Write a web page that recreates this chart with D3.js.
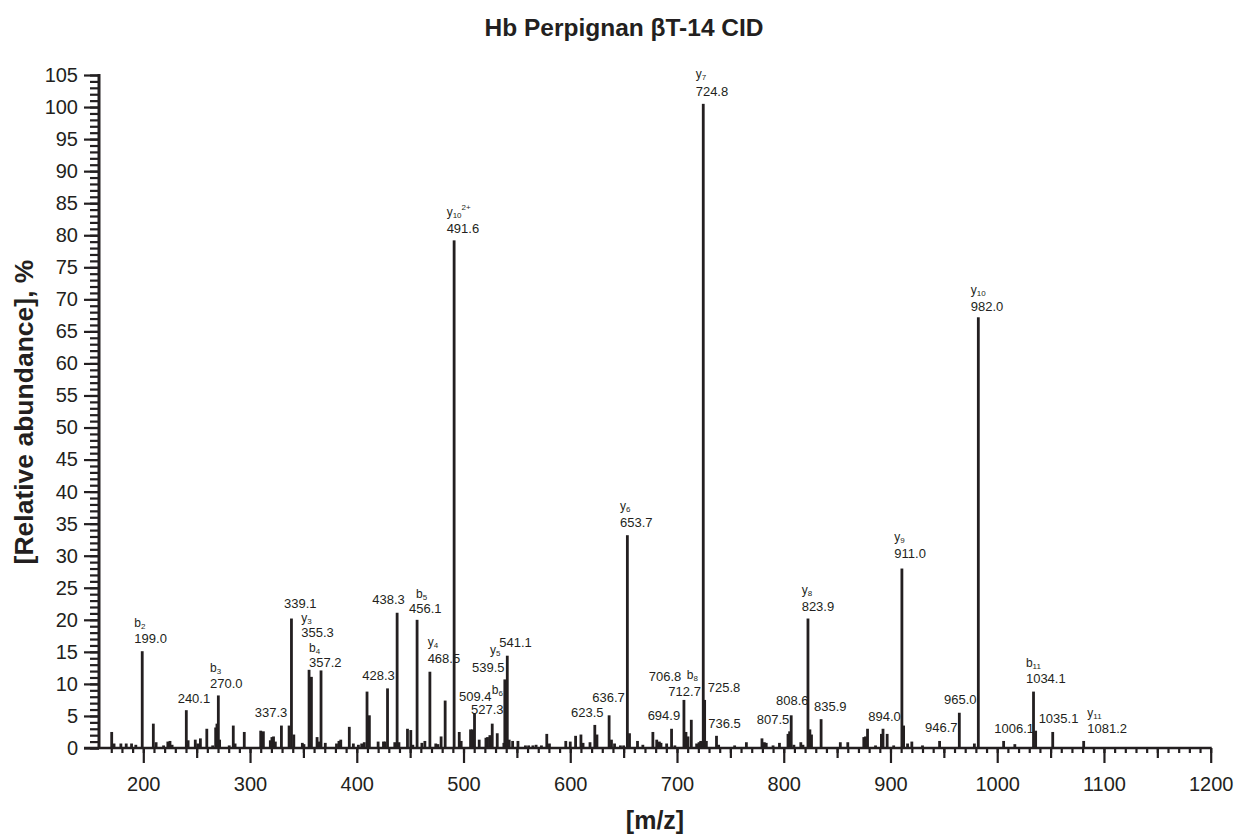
<!DOCTYPE html>
<html><head><meta charset="utf-8">
<script src="https://cdn.jsdelivr.net/npm/d3@7"></script>
<style>
html,body{margin:0;padding:0;background:#fff;}
text{font-family:"Liberation Sans",Arial,Helvetica,sans-serif;fill:#231f20;}
</style></head>
<body><svg id="chart" width="1245" height="838"></svg>
<script>
const peakMz = [170.4,172.6,179,184,189,193,199,209.4,212,219,223,225,227,240.3,242,248.7,251,253.5,259.5,265,267.8,269,270.3,271.5,280.5,284.3,286,294.6,310,312.5,319,320.5,322,323.7,329.4,336.6,338.8,341,349,350.5,355.3,357.5,362.8,364.3,366.5,370.5,381,383.3,385,393,396.8,401.5,404.6,407,409.6,411.8,420,425,426.5,428.8,435.6,437.8,439.5,447.5,450.6,452.5,456.5,461,463.8,468.5,474,476,479,482.8,491.2,496,497.8,506.6,508.5,510.3,514.7,521,522.5,524.7,526.9,531.6,537.8,538.7,541,542.8,546,551,558,561,565,568,573,578,580.5,595.8,600,605,610,612,618.5,623,625,636.4,638.6,641.5,647,650,653.5,655.5,663,668,677.4,681,683.5,685,690.3,694.9,698,706.5,708.4,710.3,713.4,718.4,720.6,722.2,724.6,725.9,727.5,737,739,754,765,779.6,781.8,783.6,790,796,804,805.5,807,809.5,816,818,822.7,824.5,826,835,853,860,875,876.6,878.5,886,891.5,893,896.9,903,910.7,912.3,916,920,930,946,964.5,978.6,982.3,1006,1016.5,1034,1036,1052,1081];
const peakAbundance = [2.5,0.7,0.7,0.7,0.7,0.5,15.1,3.8,0.9,0.4,1.0,1.1,0.5,5.9,1.2,1.3,0.7,1.5,3.0,0.4,3.2,3.8,8.2,1.3,0.4,3.5,0.7,2.5,2.7,2.6,1.2,1.7,1.8,1.0,3.5,3.5,20.2,2.1,0.8,0.6,12.2,11.1,1.7,1.0,12.1,0.8,0.7,1.1,1.3,3.3,0.7,0.5,0.7,0.9,8.8,5.1,1.0,1.0,1.0,9.3,0.9,21.1,0.9,3.0,2.8,0.5,20.0,0.8,1.1,11.9,0.7,0.6,1.8,7.4,79.2,2.5,1.1,2.9,2.9,5.4,1.3,1.6,1.7,2.0,3.8,2.3,0.8,10.7,14.4,1.3,1.1,1.1,0.4,0.4,0.4,0.5,0.4,2.2,0.7,1.1,1.0,1.9,2.1,0.8,0.9,3.6,2.1,5.1,1.3,0.7,0.4,0.4,33.2,2.3,1.1,0.5,2.5,1.3,1.0,0.8,0.7,3.0,0.4,7.5,2.5,1.8,4.4,0.7,0.9,1.1,100.5,7.5,1.1,1.9,0.5,0.4,0.9,1.5,0.9,0.8,0.4,0.8,2.2,2.6,5.1,0.5,0.9,0.5,20.2,2.9,2.1,4.5,0.9,0.9,1.7,1.8,3.0,0.4,2.2,3.0,2.2,0.4,28.0,3.5,0.7,1.0,0.4,1.1,5.5,0.7,67.2,1.1,0.6,8.8,2.7,2.5,1.1];

const yMajorTicks = [0,5,10,15,20,25,30,35,40,45,50,55,60,65,70,75,80,85,90,95,100,105];
const xMajorTicks = [200,300,400,500,600,700,800,900,1000,1100,1200];

const ionLabels = [
  {ion:"b",sub:"2",sup:"",mz:191.6,pct:18.9},
  {ion:"b",sub:"3",sup:"",mz:262.5,pct:11.8},
  {ion:"y",sub:"3",sup:"",mz:348.0,pct:19.7},
  {ion:"b",sub:"4",sup:"",mz:355.2,pct:14.9},
  {ion:"b",sub:"5",sup:"",mz:455.5,pct:23.35},
  {ion:"y",sub:"4",sup:"",mz:466.4,pct:15.9},
  {ion:"b",sub:"6",sup:"",mz:526.4,pct:8.5},
  {ion:"y",sub:"5",sup:"",mz:524.8,pct:14.7},
  {ion:"b",sub:"8",sup:"",mz:709.1,pct:10.7},
  {ion:"y",sub:"8",sup:"",mz:816.8,pct:24.1},
  {ion:"b",sub:"11",sup:"",mz:1026.9,pct:12.6},
  {ion:"y",sub:"11",sup:"",mz:1084.4,pct:4.9},
  {ion:"y",sub:"10",sup:"2+",mz:484.2,pct:83.0},
  {ion:"y",sub:"7",sup:"",mz:717.5,pct:104.5},
  {ion:"y",sub:"10",sup:"",mz:975.2,pct:70.8},
  {ion:"y",sub:"6",sup:"",mz:646.6,pct:37.2},
  {ion:"y",sub:"9",sup:"",mz:903.6,pct:32.3}
];
const massLabels = [
  {text:"199.0",mz:191.6,pct:16.33},{text:"240.1",mz:232.2,pct:6.97},{text:"270.0",mz:262.5,pct:9.31},
  {text:"337.3",mz:304.4,pct:4.79},{text:"339.1",mz:331.8,pct:21.9},{text:"355.3",mz:348.0,pct:17.27},
  {text:"357.2",mz:355.2,pct:12.68},{text:"428.3",mz:405.2,pct:10.61},{text:"438.3",mz:414.5,pct:22.42},
  {text:"456.1",mz:448.9,pct:21.01},{text:"468.5",mz:466.4,pct:13.21},{text:"509.4",mz:495.8,pct:7.3},
  {text:"527.3",mz:507.0,pct:5.3},{text:"541.1",mz:533.5,pct:15.80},{text:"539.5",mz:507.9,pct:11.90},
  {text:"623.5",mz:600.7,pct:4.88},{text:"636.7",mz:620.6,pct:7.22},{text:"706.8",mz:673.5,pct:10.50},
  {text:"694.9",mz:672.5,pct:4.37},{text:"712.7",mz:691.9,pct:8.11},{text:"725.8",mz:728.8,pct:8.78},
  {text:"736.5",mz:729.3,pct:3.17},{text:"807.5",mz:774.7,pct:3.74},{text:"808.6",mz:792.7,pct:6.71},
  {text:"823.9",mz:816.8,pct:21.42},{text:"835.9",mz:828.3,pct:5.82},{text:"894.0",mz:879.2,pct:4.21},
  {text:"946.7",mz:932.3,pct:2.45},{text:"965.0",mz:950.1,pct:6.86},{text:"1034.1",mz:1026.9,pct:10.19},
  {text:"1006.1",mz:997.3,pct:2.29},{text:"1035.1",mz:1038.8,pct:3.95},{text:"1081.2",mz:1084.4,pct:2.39},
  {text:"491.6",mz:484.2,pct:80.39},{text:"724.8",mz:717.5,pct:101.72},{text:"982.0",mz:975.2,pct:68.22},
  {text:"653.7",mz:646.6,pct:34.52},{text:"911.0",mz:903.6,pct:29.59}
];

const INK = "#231f20";
const svg = d3.select("#chart");
const x = d3.scaleLinear().domain([160,1200]).range([100.6,1210.7]);
const y = d3.scaleLinear().domain([0,105]).range([748,75]);
const axisX0 = 99;

// title
svg.append("text").attr("x",624).attr("y",36).attr("text-anchor","middle")
  .attr("font-size",24.5).attr("font-weight","bold").text("Hb Perpignan βT-14 CID");

// bars
const peaks = peakMz.map((m,i)=>({m, v:peakAbundance[i]}));
const bw = 2.8;
svg.append("g").selectAll("rect").data(peaks).join("rect")
  .attr("x",d=>x(d.m)-bw/2).attr("y",d=>y(d.v))
  .attr("width",bw).attr("height",d=>y(0)-y(d.v)).attr("fill",INK);

// y axis
const gy = svg.append("g").attr("transform",`translate(${axisX0},0)`);
gy.call(d3.axisLeft(y).tickValues(d3.range(0,106,1)).tickSize(9).tickFormat(""))
  .call(g=>g.select(".domain").remove());
gy.append("g").call(d3.axisLeft(y).tickValues(yMajorTicks).tickSize(15).tickPadding(6))
  .call(g=>g.select(".domain").remove())
  .call(g=>g.selectAll("text").attr("font-size",20).attr("font-family","Liberation Sans, Arial, sans-serif").attr("fill",INK));
gy.selectAll(".tick line").attr("stroke",INK).attr("stroke-width",2.2);
gy.append("line").attr("x1",0).attr("x2",0).attr("y1",y(105)-1).attr("y2",y(0)+1)
  .attr("stroke",INK).attr("stroke-width",3);

// x axis
const gx = svg.append("g").attr("transform",`translate(0,${y(0)})`);
gx.call(d3.axisBottom(x).tickValues(d3.range(170,1201,10)).tickSize(5).tickFormat(""))
  .call(g=>g.select(".domain").remove());
gx.append("g").call(d3.axisBottom(x).tickValues(d3.range(250,1200,100)).tickSize(10).tickFormat(""))
  .call(g=>g.select(".domain").remove());
gx.append("g").call(d3.axisBottom(x).tickValues(xMajorTicks).tickSize(15).tickPadding(14).tickFormat(d3.format("d")))
  .call(g=>g.select(".domain").remove())
  .call(g=>g.selectAll("text").attr("font-size",20).attr("font-family","Liberation Sans, Arial, sans-serif").attr("fill",INK));
gx.selectAll(".tick line").attr("stroke",INK).attr("stroke-width",2.2);
gx.append("line").attr("x1",84).attr("x2",x(1200)+1).attr("y1",0).attr("y2",0)
  .attr("stroke",INK).attr("stroke-width",2.7);

// axis titles
svg.append("text").attr("transform","translate(33,412) rotate(-90)").attr("text-anchor","middle")
  .attr("font-size",26.5).attr("font-weight","bold").text("[Relative abundance], %");
svg.append("text").attr("x",655).attr("y",829).attr("text-anchor","middle")
  .attr("font-size",25).attr("font-weight","bold").text("[m/z]");

// labels
const gl = svg.append("g");
gl.selectAll("text.mass").data(massLabels).join("text").attr("class","mass")
  .attr("x",d=>x(d.mz)).attr("y",d=>y(d.pct)).attr("font-size",13).text(d=>d.text);
const ions = gl.selectAll("text.ion").data(ionLabels).join("text").attr("class","ion")
  .attr("x",d=>x(d.mz)).attr("y",d=>y(d.pct)).attr("font-size",12);
ions.append("tspan").text(d=>d.ion);
ions.append("tspan").attr("font-size",8).attr("dy",2).text(d=>d.sub);
ions.filter(d=>d.sup).append("tspan").attr("font-size",8).attr("dy",-8).text(d=>d.sup);
</script></body></html>
